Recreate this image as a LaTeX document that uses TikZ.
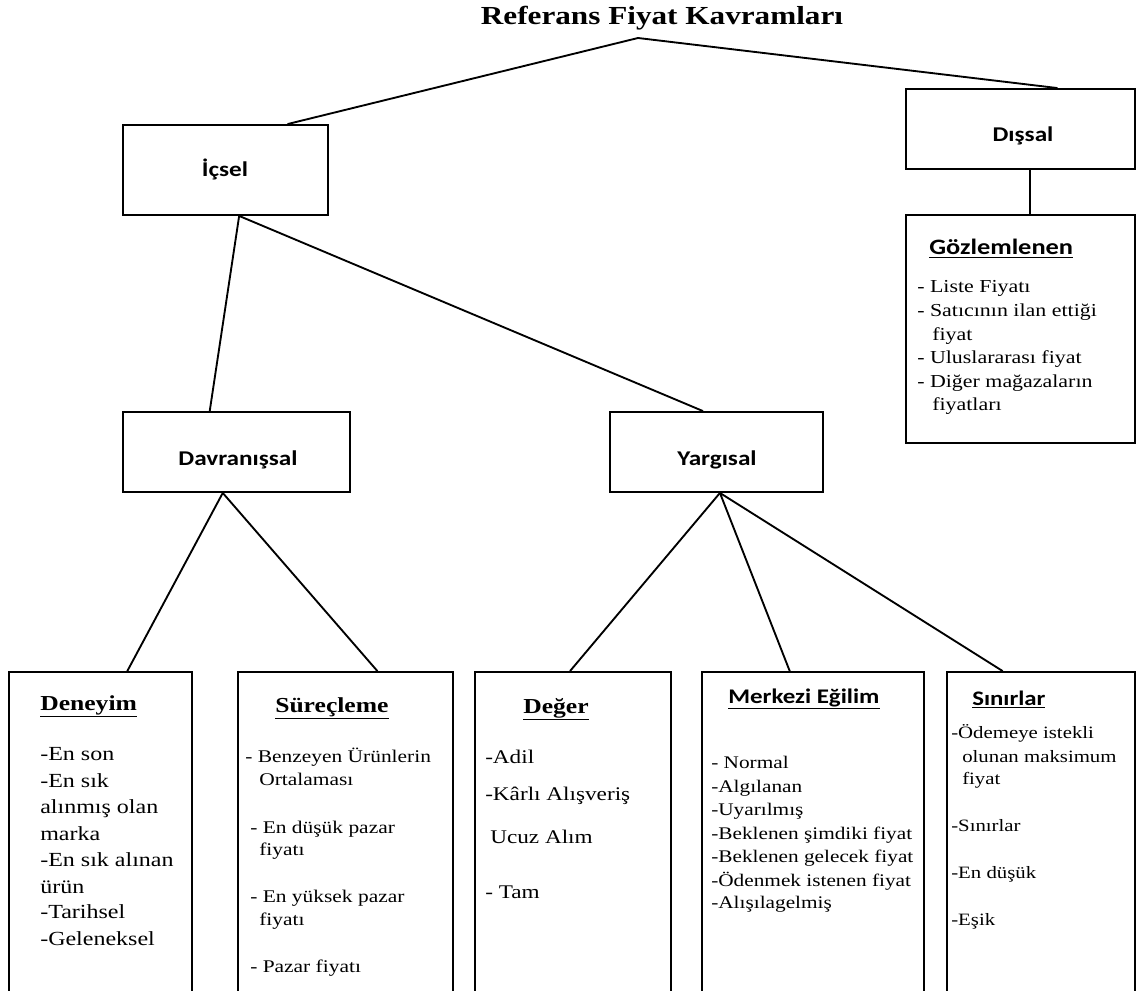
\documentclass[tikz,border=0pt]{standalone}
\usepackage{fontspec}
\setmainfont{Liberation Serif}[FakeStretch=1.2]
\newfontfamily\calib{Carlito}[FakeStretch=1.2]
\usetikzlibrary{fit,calc}
\tikzset{
  box/.style={draw=black, line width=1.4pt, inner sep=0pt},
  conn/.style={draw=black, line width=1.4pt},
  lbl/.style={anchor=base, inner sep=0pt, font=\calib\bfseries\fontsize{15.75pt}{18pt}\selectfont},
  txt/.style={anchor=base west, inner sep=0pt},
}
\begin{document}
\begin{tikzpicture}[x=0.75pt,y=-0.75pt]
\useasboundingbox (0,0) rectangle (1138,991);
\clip (0,0) rectangle (1138,991);

% title
\node[anchor=base, inner sep=0pt, font=\bfseries\fontsize{19.5pt}{22pt}\selectfont] (title) at (662,25) {Referans Fiyat Kavramları};
\coordinate (apex) at (638,38);

% boxes
\node[box, fit={(123,125) (328,215)}] (icsel) {};
\node[box, fit={(906,89) (1135,169)}] (dissal) {};
\node[box, fit={(906,215) (1135,443)}] (goz) {};
\node[box, fit={(123,412) (350,492)}] (davr) {};
\node[box, fit={(610,412) (823,492)}] (yarg) {};
\node[box, fit={(9,672) (192,1010)}] (den) {};
\node[box, fit={(238,672) (453,1010)}] (sur) {};
\node[box, fit={(475,672) (671,1010)}] (deg) {};
\node[box, fit={(702,672) (924,1010)}] (mer) {};
\node[box, fit={(947,672) (1135,1010)}] (sin) {};

% box labels
\node[lbl] (icselL) at (225,177) {İçsel};
\node[lbl] (dissalL) at (1023,142) {Dışsal};
\node[lbl] (davrL) at (238,465) {Davranışsal};
\node[lbl] (yargL) at (717,465) {Yargısal};

% connectors
\draw[conn] (apex) -- ($(icsel.north west)!0.8!(icsel.north east)$);
\draw[conn] (apex) -- ($(dissal.north west)!0.66!(dissal.north east)$);
\draw[conn] ($(dissal.south west)!0.54!(dissal.south east)$) coordinate (dd) -- (dd |- goz.north);
\draw[conn] ($(icsel.south west)!0.566!(icsel.south east)$) coordinate (ib) -- ($(davr.north west)!0.383!(davr.north east)$);
\draw[conn] (ib) -- ($(yarg.north west)!0.437!(yarg.north east)$);
\draw[conn] ($(davr.south west)!0.44!(davr.south east)$) coordinate (db) -- ($(den.north west)!0.645!(den.north east)$);
\draw[conn] (db) -- ($(sur.north west)!0.647!(sur.north east)$);
\draw[conn] ($(yarg.south west)!0.516!(yarg.south east)$) coordinate (yb) -- ($(deg.north west)!0.485!(deg.north east)$);
\draw[conn] (yb) -- ($(mer.north west)!0.396!(mer.north east)$);
\draw[conn] (yb) -- ($(sin.north west)!0.298!(sin.north east)$);

% Gözlemlenen
\node[txt, font=\calib\bfseries\fontsize{16.5pt}{18pt}\selectfont] (gozH) at (929,255) {\underline{Gözlemlenen}};
\foreach \x/\y/\t [count=\i] in {917/292/- Liste Fiyatı, 917/316/- Satıcının ilan ettiği, 932/340/fiyat, 917/363/- Uluslararası fiyat, 917/387/- Diğer mağazaların, 932/410/fiyatları}
  \node[txt, font=\fontsize{13.7pt}{15pt}\selectfont] (goz\i) at (\x,\y) {\t};

% Deneyim
\node[txt, font=\bfseries\fontsize{16pt}{18pt}\selectfont] (denH) at (40,710) {\underline{Deneyim}};
\foreach \y/\t [count=\i] in {760/-En son, 787/-En sık, 813/alınmış olan, 840/marka, 866/-En sık alınan, 893/ürün, 918/-Tarihsel, 945/-Geleneksel}
  \node[txt, font=\fontsize{15pt}{17pt}\selectfont] (den\i) at (40,\y) {\t};

% Süreçleme
\node[txt, font=\bfseries\fontsize{16pt}{18pt}\selectfont] (surH) at (275,712) {\underline{Süreçleme}};
\foreach \x/\y/\t [count=\i] in {245/762/- Benzeyen Ürünlerin, 259/785/Ortalaması, 250/833/- En düşük pazar, 259/855/fiyatı, 250/902/- En yüksek pazar, 259/925/fiyatı, 250/972/- Pazar fiyatı}
  \node[txt, font=\fontsize{13.4pt}{15pt}\selectfont] (sur\i) at (\x,\y) {\t};

% Değer
\node[txt, font=\bfseries\fontsize{16pt}{18pt}\selectfont] (degH) at (523,713) {\underline{Değer}};
\foreach \x/\y/\t [count=\i] in {485/763/-Adil, 485/800/-Kârlı Alışveriş, 490/843/Ucuz Alım, 485/898/- Tam}
  \node[txt, font=\fontsize{14.5pt}{16pt}\selectfont] (deg\i) at (\x,\y) {\t};

% Merkezi Eğilim
\node[txt, font=\calib\bfseries\fontsize{15.6pt}{17pt}\selectfont] (merH) at (728,703) {\underline{Merkezi Eğilim}};
\foreach \y/\t [count=\i] in {768/- Normal, 792/-Algılanan, 815/-Uyarılmış, 839/-Beklenen şimdiki fiyat, 862/-Beklenen gelecek fiyat, 886/-Ödenmek istenen fiyat, 908/-Alışılagelmiş}
  \node[txt, font=\fontsize{13.3pt}{15pt}\selectfont] (mer\i) at (711,\y) {\t};

% Sınırlar
\node[txt, font=\calib\bfseries\fontsize{15.5pt}{17pt}\selectfont] (sinH) at (972,705) {\underline{Sınırlar}};
\foreach \x/\y/\t [count=\i] in {951/738/-Ödemeye istekli, 962/762/olunan maksimum, 962/784/fiyat, 951/831/-Sınırlar, 951/878/-En düşük, 951/925/-Eşik}
  \node[txt, font=\fontsize{13pt}{15pt}\selectfont] (sin\i) at (\x,\y) {\t};
\end{tikzpicture}
\end{document}
